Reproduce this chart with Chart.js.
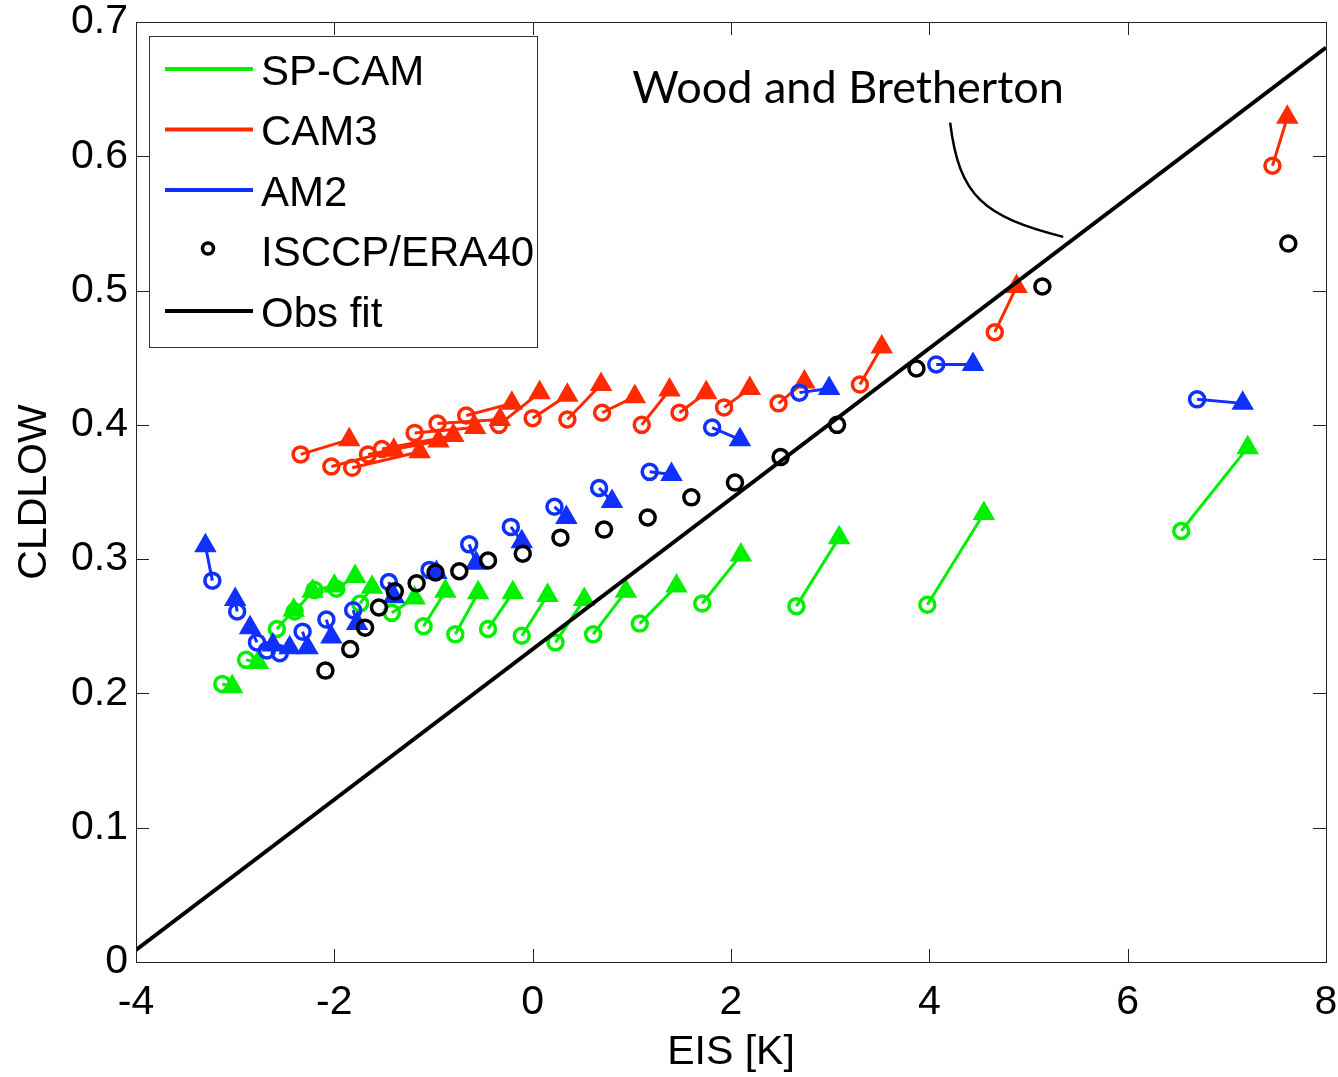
<!DOCTYPE html>
<html>
<head>
<meta charset="utf-8">
<script src="https://cdn.jsdelivr.net/npm/chart.js@4.4.1/dist/chart.umd.min.js"></script>
<style>
  body { margin: 0; background: #fff; }
  #wrap { width: 1338px; height: 1077px; }
</style>
</head>
<body>
<div id="wrap"><canvas id="chart" width="1338" height="1077"></canvas></div>
<script>
// axis ticks
const xTicks = [-4, -2, 0, 2, 4, 6, 8];
const yTickLabels = ["0", "0.1", "0.2", "0.3", "0.4", "0.5", "0.6", "0.7"];

// SP-CAM: circle (start) -> triangle (end)
const spcamX0 = [-3.13, -2.89, -2.58, -2.40, -2.20, -1.98, -1.74, -1.42, -1.10, -0.78, -0.45, -0.11, 0.23, 0.61, 1.08, 1.71, 2.66, 3.98, 6.54];
const spcamY0 = [0.207, 0.225, 0.248, 0.261, 0.277, 0.278, 0.267, 0.260, 0.250, 0.244, 0.248, 0.243, 0.238, 0.244, 0.252, 0.267, 0.265, 0.266, 0.321];
const spcamX1 = [-3.03, -2.77, -2.41, -2.22, -2.00, -1.79, -1.62, -1.19, -0.88, -0.55, -0.20, 0.15, 0.52, 0.94, 1.45, 2.10, 3.09, 4.55, 7.21];
const spcamY1 = [0.205, 0.223, 0.262, 0.276, 0.280, 0.287, 0.279, 0.271, 0.276, 0.275, 0.275, 0.273, 0.270, 0.276, 0.280, 0.303, 0.316, 0.334, 0.383];

// CAM3
const cam3X0 = [-2.34, -2.03, -1.82, -1.66, -1.52, -1.19, -0.96, -0.67, -0.34, 0.00, 0.35, 0.70, 1.10, 1.48, 1.93, 2.48, 3.30, 4.66, 7.46];
const cam3Y0 = [0.378, 0.369, 0.368, 0.378, 0.382, 0.394, 0.401, 0.407, 0.400, 0.405, 0.404, 0.409, 0.400, 0.409, 0.413, 0.416, 0.430, 0.469, 0.593];
const cam3X1 = [-1.85, -1.40, -1.14, -0.95, -0.80, -0.58, -0.33, -0.21, 0.07, 0.35, 0.69, 1.03, 1.38, 1.75, 2.19, 2.74, 3.52, 4.88, 7.61];
const cam3Y1 = [0.389, 0.381, 0.380, 0.388, 0.392, 0.398, 0.404, 0.416, 0.424, 0.422, 0.430, 0.421, 0.426, 0.424, 0.427, 0.432, 0.458, 0.503, 0.629];

// AM2
const am2X0 = [-3.23, -2.98, -2.78, -2.68, -2.55, -2.32, -2.08, -1.81, -1.45, -1.04, -0.64, -0.22, 0.22, 0.67, 1.18, 1.81, 2.69, 4.07, 6.70];
const am2Y0 = [0.284, 0.261, 0.238, 0.232, 0.230, 0.246, 0.255, 0.262, 0.283, 0.292, 0.311, 0.324, 0.339, 0.353, 0.365, 0.398, 0.424, 0.445, 0.419];
const am2X1 = [-3.30, -3.00, -2.85, -2.62, -2.45, -2.27, -2.03, -1.77, -1.40, -0.97, -0.57, -0.11, 0.34, 0.80, 1.40, 2.09, 2.99, 4.44, 7.16];
const am2Y1 = [0.310, 0.270, 0.249, 0.236, 0.234, 0.234, 0.242, 0.252, 0.272, 0.290, 0.297, 0.313, 0.331, 0.343, 0.363, 0.389, 0.427, 0.445, 0.416];

// ISCCP/ERA40 observations
const obsX = [-2.09, -1.84, -1.69, -1.55, -1.39, -1.17, -0.98, -0.74, -0.45, -0.10, 0.28, 0.72, 1.16, 1.60, 2.04, 2.50, 3.07, 3.87, 5.14, 7.62];
const obsY = [0.217, 0.233, 0.249, 0.264, 0.276, 0.282, 0.290, 0.291, 0.299, 0.304, 0.316, 0.322, 0.331, 0.346, 0.357, 0.376, 0.400, 0.442, 0.503, 0.535];

// Obs fit line
const fitX = [-4, 8];
const fitY = [0.009, 0.681];

const FONT = "'Liberation Sans', Arial, Helvetica, sans-serif";
const GREEN = "#00f000";
const RED = "#ff2a00";
const BLUE = "#1030ff";

// circle -> triangle, then a null point to break the line
function pairs(x0, y0, x1, y1) {
    const pts = [];
    for (let i = 0; i < x0.length; i++) {
        pts.push({ x: x0[i], y: y0[i] }, { x: x1[i], y: y1[i] }, { x: x1[i], y: null });
    }
    return pts;
}

function modelSet(label, color, x0, y0, x1, y1, order) {
    return {
        label: label,
        data: pairs(x0, y0, x1, y1),
        borderColor: color,
        borderWidth: 3,
        order: order,
        pointStyle: (c) => (c.dataIndex % 3 === 0 ? "circle" : "triangle"),
        pointRadius: (c) => (c.dataIndex % 3 === 0 ? 7.5 : c.dataIndex % 3 === 1 ? 9.5 : 0),
        pointBorderWidth: 3.5,
        pointBorderColor: color,
        pointBackgroundColor: (c) => (c.dataIndex % 3 === 1 ? color : "rgba(0,0,0,0)"),
        legendType: "line"
    };
}

// inward ticks on all four sides plus the box
const framePlugin = {
    id: "frame",
    afterDraw(chart) {
        const { ctx, chartArea: a, scales } = chart;
        ctx.save();
        ctx.strokeStyle = "#222";
        ctx.lineWidth = 1;
        ctx.strokeRect(a.left + 0.5, a.top + 0.5, a.right - a.left, a.bottom - a.top);
        ctx.beginPath();
        scales.x.ticks.forEach((t) => {
            const px = Math.round(scales.x.getPixelForValue(t.value)) + 0.5;
            ctx.moveTo(px, a.bottom); ctx.lineTo(px, a.bottom - 13);
            ctx.moveTo(px, a.top); ctx.lineTo(px, a.top + 13);
        });
        scales.y.ticks.forEach((t) => {
            const py = Math.round(scales.y.getPixelForValue(t.value)) + 0.5;
            ctx.moveTo(a.left, py); ctx.lineTo(a.left + 13, py);
            ctx.moveTo(a.right, py); ctx.lineTo(a.right - 13, py);
        });
        ctx.stroke();
        ctx.restore();
    }
};

// legend box in the upper left of the axes
const legendPlugin = {
    id: "boxLegend",
    afterDraw(chart) {
        const { ctx, chartArea: a } = chart;
        const left = a.left + 13, top = a.top + 14;
        ctx.save();
        ctx.fillStyle = "#fff";
        ctx.fillRect(left, top, 388, 311);
        ctx.strokeStyle = "#333";
        ctx.lineWidth = 1;
        ctx.strokeRect(left + 0.5, top + 0.5, 388, 311);
        ctx.font = "42px " + FONT;
        ctx.textBaseline = "middle";
        ctx.fillStyle = "#000";
        const order = [1, 2, 3, 0, 4];
        order.forEach((di, row) => {
            const ds = chart.data.datasets[di];
            const cy = top + 33 + row * 60.5;
            if (ds.legendType === "line") {
                ctx.strokeStyle = ds.borderColor;
                ctx.lineWidth = 4;
                ctx.beginPath();
                ctx.moveTo(left + 16, cy);
                ctx.lineTo(left + 104, cy);
                ctx.stroke();
            } else {
                ctx.strokeStyle = "#000";
                ctx.lineWidth = 3.5;
                ctx.beginPath();
                ctx.arc(left + 59, cy - 2, 5.5, 0, Math.PI * 2);
                ctx.stroke();
            }
            ctx.fillText(ds.label, left + 112, cy + 4);
        });
        ctx.restore();
    }
};

// "Wood and Bretherton" label with its leader curve
const notePlugin = {
    id: "note",
    afterDraw(chart) {
        const { ctx, scales } = chart;
        const X = (v) => scales.x.getPixelForValue(v);
        const Y = (v) => scales.y.getPixelForValue(v);
        ctx.save();
        ctx.fillStyle = "#000";
        ctx.font = "45px Lato, 'Open Sans', sans-serif";
        ctx.textAlign = "center";
        ctx.textBaseline = "alphabetic";
        ctx.fillText("Wood and Bretherton", X(3.18), Y(0.640));
        ctx.strokeStyle = "#000";
        ctx.lineWidth = 2.5;
        ctx.beginPath();
        ctx.moveTo(X(4.21), Y(0.625));
        ctx.bezierCurveTo(X(4.30), Y(0.570), X(4.55), Y(0.555), X(5.35), Y(0.540));
        ctx.stroke();
        ctx.restore();
    }
};

const chart = new Chart(document.getElementById("chart"), {
    type: "line",
    data: {
        datasets: [
            {
                label: "ISCCP/ERA40",
                data: obsX.map((x, i) => ({ x: x, y: obsY[i] })),
                showLine: false,
                order: 0,
                pointStyle: "circle",
                pointRadius: 7.5,
                pointBorderWidth: 3.5,
                pointBorderColor: "#000",
                pointBackgroundColor: "rgba(0,0,0,0)",
                borderColor: "#000",
                legendType: "marker"
            },
            modelSet("SP-CAM", GREEN, spcamX0, spcamY0, spcamX1, spcamY1, 4),
            modelSet("CAM3", RED, cam3X0, cam3Y0, cam3X1, cam3Y1, 3),
            modelSet("AM2", BLUE, am2X0, am2Y0, am2X1, am2Y1, 2),
            {
                label: "Obs fit",
                data: fitX.map((x, i) => ({ x: x, y: fitY[i] })),
                borderColor: "#000",
                borderWidth: 4,
                pointRadius: 0,
                order: 1,
                legendType: "line"
            }
        ]
    },
    options: {
        responsive: false,
        animation: false,
        layout: { padding: { left: 10, top: 22, right: 12, bottom: 0 } },
        plugins: {
            legend: { display: false },
            tooltip: { enabled: false }
        },
        elements: { line: { tension: 0 } },
        scales: {
            x: {
                type: "linear",
                min: -4,
                max: 8,
                afterBuildTicks: (s) => { s.ticks = xTicks.map((v) => ({ value: v })); },
                ticks: { color: "#000", font: { family: FONT, size: 41 }, padding: 16, maxRotation: 0 },
                grid: { display: false, drawTicks: false },
                border: { display: false },
                title: { display: true, text: "EIS [K]", color: "#000", font: { family: FONT, size: 41 }, padding: 0 },
                afterFit: (s) => {
                    s.height = 115;
                    s.paddingLeft = 0;
                    s.paddingRight = 0;
                }
            },
            y: {
                min: 0,
                max: 0.7,
                afterBuildTicks: (s) => { s.ticks = yTickLabels.map((l, i) => ({ value: i / 10 })); },
                ticks: {
                    color: "#000",
                    font: { family: FONT, size: 41 },
                    padding: 8,
                    callback: (v, i) => yTickLabels[i]
                },
                grid: { display: false, drawTicks: false },
                border: { display: false },
                title: { display: true, text: "CLDLOW", color: "#000", font: { family: FONT, size: 41 }, padding: 0 },
                afterFit: (s) => {
                    s.width = 126;
                    s.paddingTop = 0;
                    s.paddingBottom = 0;
                }
            }
        }
    },
    plugins: [framePlugin, legendPlugin, notePlugin]
});
</script>
</body>
</html>
